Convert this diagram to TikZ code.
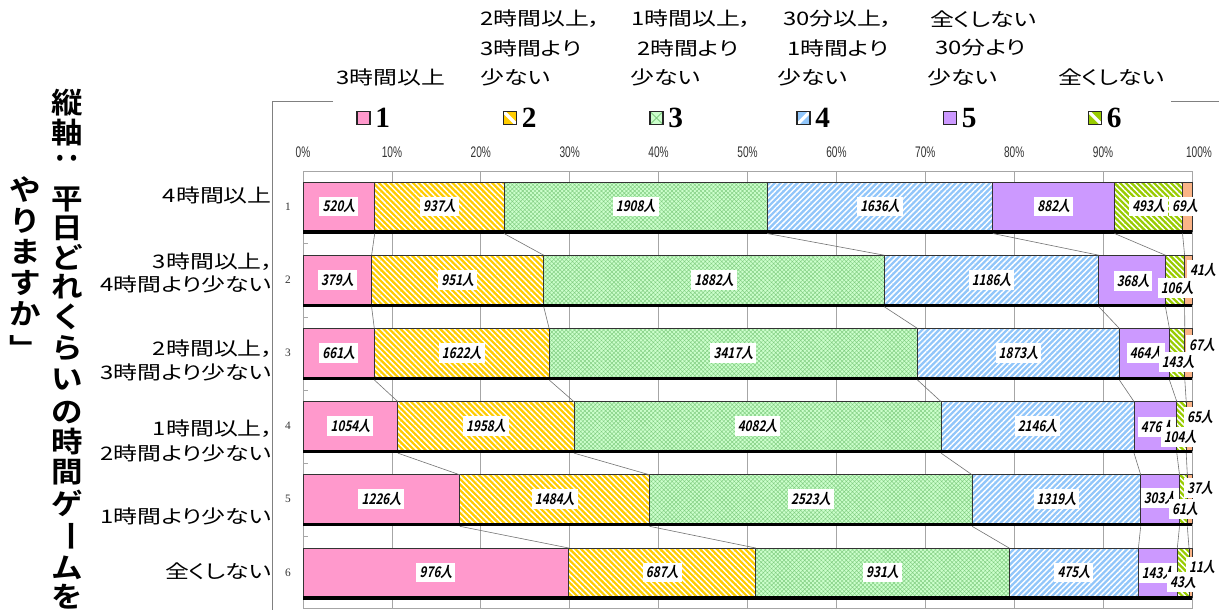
\documentclass[tikz,border=0pt]{standalone}
\usepackage{fontspec}
\usetikzlibrary{patterns.meta}
\setmainfont{Liberation Sans}
\newfontfamily\jp[FakeStretch=1.28,RawFeature=+palt]{Noto Sans CJK JP}
\newfontfamily\jpb[FakeStretch=1.1]{Noto Sans CJK JP Bold}
\newfontfamily\lab[FakeSlant=0.2,FakeStretch=0.8]{Noto Sans CJK JP Bold}
\newfontfamily\pctf[FakeStretch=0.66]{Liberation Sans}
\newfontfamily\numf{Liberation Serif}
\newcommand\lsize{\fontsize{14}{16}\selectfont}
\definecolor{c1}{RGB}{255,153,204}
\definecolor{c2}{RGB}{255,204,0}
\definecolor{c3}{RGB}{204,255,204}
\definecolor{c3d}{RGB}{130,205,130}
\definecolor{c4}{RGB}{145,198,250}
\definecolor{c5}{RGB}{204,153,255}
\definecolor{c6}{RGB}{153,204,0}
\definecolor{c7}{RGB}{250,180,135}
\definecolor{gridc}{RGB}{166,166,166}
\definecolor{framec}{RGB}{128,128,128}
\tikzset{
  segline/.style={draw=black!80, line width=0.5pt},
  s1/.style={fill=c1},
  s2/.style={preaction={fill=c2}, pattern={Lines[angle=-45,distance=3pt,line width=1.1pt]}, pattern color=white},
  s3/.style={preaction={fill=c3}, pattern={Hatch[angle=45,distance=2.2pt,line width=0.35pt]}, pattern color=c3d},
  s4/.style={preaction={fill=c4}, pattern={Lines[angle=45,distance=3pt,line width=1.1pt]}, pattern color=white},
  s5/.style={fill=c5},
  s6/.style={preaction={fill=c6}, pattern={Lines[angle=-45,distance=3pt,line width=1.1pt]}, pattern color=white},
  s7/.style={fill=c7},
  lbl/.style={fill=white, inner sep=2.4pt, font=\lab\fontsize{11}{12}\selectfont},
  catlab/.style={anchor=east, inner sep=0pt, font=\jp\lsize},
  hdr/.style={anchor=west, inner sep=0pt, font=\jp\lsize},
  pct/.style={inner sep=0pt, font=\pctf\fontsize{11.5}{12}\selectfont, text=black!80},
  rownum/.style={inner sep=0pt, font=\numf\fontsize{8.5}{9}\selectfont, text=black!80},
  legnum/.style={anchor=west, inner sep=0pt, font=\numf\bfseries\fontsize{22}{24}\selectfont},
  icon/.style={draw=black!85, line width=1.1pt},
  vt/.style={inner sep=0pt, font=\jpb\fontsize{21.5}{24}\selectfont},
  serline/.style={draw=black!55, line width=0.45pt},
  grid/.style={draw=gridc, line width=0.6pt},
  frame/.style={draw=framec, line width=0.75pt}
}
\begin{document}
\begin{tikzpicture}[x=0.75pt,y=-0.75pt]
\useasboundingbox (0,0) rectangle (1219,610);
\fill[white] (0,0) rectangle (1219,610);

% outer plot frame
\draw[frame] (333,101) -- (272,101) -- (272,610);
\draw[frame] (1171,101) -- (1219,101);

% grid
\foreach \k in {0,...,10}{
  \draw[grid] ({303+88.9*\k},171) -- ({303+88.9*\k},609);
}
\draw[grid] (303,171) -- (1192,171);
\draw[grid] (303,608.5) -- (1192,608.5);
\foreach \y in {243.7,316.9,390.1,463.3,536.5}{
  \draw[grid] (303,\y) -- (308,\y);
}

% percent labels
\foreach \k/\t in {0/0\%,1/10\%,2/20\%,3/30\%,4/40\%,5/50\%,6/60\%,7/70\%,8/80\%,9/90\%}{
  \node[pct] (p\k) at ({303+88.9*\k},152) {\t};
}
\node[pct] (p10) at (1199,152) {100\%};

% bars
\foreach \r/\ba/\bb/\bc/\bd/\be/\bf in {
1/374.7/504.0/767.2/992.8/1114.5/1182.5,
2/371.6/543.7/884.2/1098.8/1165.4/1184.6,
3/374.3/549.1/917.4/1119.3/1169.4/1184.8,
4/397.8/573.9/941.0/1134.0/1176.8/1186.2,
5/459.8/649.5/972.1/1140.7/1179.5/1187.3,
6/568.7/755.7/1009.1/1138.4/1177.3/1189.0}{
  \pgfmathsetmacro\yt{182+73.2*(\r-1)}
  \pgfmathsetmacro\yb{\yt+49}
  \path[s1,segline] (303,\yt) rectangle (\ba,\yb);
  \path[s2,segline] (\ba,\yt) rectangle (\bb,\yb);
  \path[s3,segline] (\bb,\yt) rectangle (\bc,\yb);
  \path[s4,segline] (\bc,\yt) rectangle (\bd,\yb);
  \path[s5,segline] (\bd,\yt) rectangle (\be,\yb);
  \path[s6,segline] (\be,\yt) rectangle (\bf,\yb);
  \path[s7,segline] (\bf,\yt) rectangle (1192,\yb);
  \draw[line width=2.3pt] (303,\yb+1) -- (1192,\yb+1);
  \node[rownum] (n\r) at (288,\yt+24.5) {\r};
  \foreach \k/\x in {1/\ba,2/\bb,3/\bc,4/\bd,5/\be,6/\bf}{
    \coordinate (t\r-\k) at (\x,\yt);
    \coordinate (b\r-\k) at (\x,\yb+2.5);
  }
}

% series lines
\foreach \r in {1,...,5}{
  \pgfmathtruncatemacro\n{\r+1}
  \foreach \k in {1,...,6}{
    \draw[serline] (b\r-\k) -- (t\n-\k);
  }
}

% value labels
\node[lbl] (v11) at (338.9,206.5) {520人};
\node[lbl] (v12) at (439.4,206.5) {937人};
\node[lbl] (v13) at (635.6,206.5) {1908人};
\node[lbl] (v14) at (880.0,206.5) {1636人};
\node[lbl] (v15) at (1053.7,206.5) {882人};
\node[lbl] (v16) at (1148.5,206.5) {493人};
\node[lbl] (v17) at (1185,206.5) {69人};

\node[lbl] (v21) at (337.3,279.7) {379人};
\node[lbl] (v22) at (457.7,279.7) {951人};
\node[lbl] (v23) at (714.0,279.7) {1882人};
\node[lbl] (v24) at (991.5,279.7) {1186人};
\node[lbl] (v25) at (1133,281) {368人};
\node[lbl] (v26) at (1177,288) {106人};
\node[lbl] (v27) at (1203,270) {41人};

\node[lbl] (v31) at (338.7,352.9) {661人};
\node[lbl] (v32) at (461.7,352.9) {1622人};
\node[lbl] (v33) at (733.3,352.9) {3417人};
\node[lbl] (v34) at (1018.4,352.9) {1873人};
\node[lbl] (v35) at (1146,353) {464人};
\node[lbl] (v36) at (1178,362) {143人};
\node[lbl] (v37) at (1202,345) {67人};

\node[lbl] (v41) at (350.4,426.1) {1054人};
\node[lbl] (v42) at (485.9,426.1) {1958人};
\node[lbl] (v43) at (757.5,426.1) {4082人};
\node[lbl] (v44) at (1037.5,426.1) {2146人};
\node[lbl] (v45) at (1157,427) {476人};
\node[lbl] (v46) at (1180,437) {104人};
\node[lbl] (v47) at (1200,417) {65人};

\node[lbl] (v51) at (381.4,499.3) {1226人};
\node[lbl] (v52) at (554.7,499.3) {1484人};
\node[lbl] (v53) at (810.8,499.3) {2523人};
\node[lbl] (v54) at (1056.4,499.3) {1319人};
\node[lbl] (v55) at (1160,498) {303人};
\node[lbl] (v56) at (1185,509) {61人};
\node[lbl] (v57) at (1200,488) {37人};

\node[lbl] (v61) at (435.9,572.5) {976人};
\node[lbl] (v62) at (662.2,572.5) {687人};
\node[lbl] (v63) at (882.4,572.5) {931人};
\node[lbl] (v64) at (1073.8,572.5) {475人};
\node[lbl] (v65) at (1158,573) {143人};
\node[lbl] (v66) at (1183,582) {43人};
\node[lbl] (v67) at (1202,567) {11人};

% category labels
\node[catlab] (cat1) at (272,195) {4時間以上};
\node[catlab] (cat2a) at (274,262) {3時間以上，};
\node[catlab] (cat2b) at (272,284) {4時間より少ない};
\node[catlab] (cat3a) at (274,349) {2時間以上，};
\node[catlab] (cat3b) at (272,372) {3時間より少ない};
\node[catlab] (cat4a) at (274,429) {1時間以上，};
\node[catlab] (cat4b) at (272,453) {2時間より少ない};
\node[catlab] (cat5) at (272,516) {1時間より少ない};
\node[catlab] (cat6) at (272,571) {全くしない};

% legend headers
\node[hdr] (h1) at (336,77) {3時間以上};
\node[hdr] (h2a) at (480,19) {2時間以上，};
\node[hdr] (h2b) at (480,48) {3時間より};
\node[hdr] (h2c) at (480,77) {少ない};
\node[hdr] (h3a) at (631,19) {1時間以上，};
\node[hdr] (h3b) at (637,48) {2時間より};
\node[hdr] (h3c) at (630,77) {少ない};
\node[hdr] (h4a) at (783,19) {30分以上，};
\node[hdr] (h4b) at (787,48) {1時間より};
\node[hdr] (h4c) at (777,77) {少ない};
\node[hdr] (h5a) at (930,19) {全くしない};
\node[hdr] (h5b) at (935,48) {30分より};
\node[hdr] (h5c) at (927,77) {少ない};
\node[hdr] (h6) at (1058,77) {全くしない};

% legend icons
\path[fill=c1] (357,111.5) rectangle (370,124.5);
\draw[icon] (357,111.5) rectangle (370,124.5);
\node[legnum] (L1) at (375,118) {1};

\begin{scope}
\clip (503.5,111.5) rectangle (516.5,124.5);
\fill[c2] (503.5,111.5) rectangle (516.5,124.5);
\draw[white, line width=2.4pt] (503.5,111.5) -- (516.5,124.5);
\end{scope}
\draw[icon] (503.5,111.5) rectangle (516.5,124.5);
\node[legnum] (L2) at (521.5,118) {2};

\begin{scope}
\clip (650,111.5) rectangle (663,124.5);
\fill[c3] (650,111.5) rectangle (663,124.5);
\draw[c3d, line width=0.6pt] (650,111.5) -- (663,124.5) (650,124.5) -- (663,111.5);
\end{scope}
\draw[icon] (650,111.5) rectangle (663,124.5);
\node[legnum] (L3) at (668,118) {3};

\begin{scope}
\clip (797,111.5) rectangle (810,124.5);
\fill[c4] (797,111.5) rectangle (810,124.5);
\draw[white, line width=2.4pt] (797,124.5) -- (810,111.5);
\end{scope}
\draw[icon] (797,111.5) rectangle (810,124.5);
\node[legnum] (L4) at (815,118) {4};

\path[fill=c5] (943.5,111.5) rectangle (956.5,124.5);
\draw[icon] (943.5,111.5) rectangle (956.5,124.5);
\node[legnum] (L5) at (961.5,118) {5};

\begin{scope}
\clip (1088.5,111.5) rectangle (1101.5,124.5);
\fill[c6] (1088.5,111.5) rectangle (1101.5,124.5);
\draw[white, line width=2.4pt] (1088.5,111.5) -- (1101.5,124.5);
\end{scope}
\draw[icon] (1088.5,111.5) rectangle (1101.5,124.5);
\node[legnum] (L6) at (1106.5,118) {6};

% vertical title
\foreach \c/\y/\rot [count=\i] in {縦/103/0, 軸/133/0, ：/158/-90, 平/199/0, 日/228/0, ど/257/0, れ/287/0, く/317/0, ら/348/0, い/380/0, の/413/0, 時/442/0, 間/472/0, ゲ/503/0, ー/536/-90, ム/568/0, を/597/0}{
  \node[vt, rotate=\rot] (tr\i) at (67,\y) {\c};
}
\foreach \c/\y [count=\i] in {や/190, り/221, ま/252, す/283, か/314}{
  \node[vt] (tl\i) at (25,\y) {\c};
}
\node[vt] (tl6) at (25,348) {﹂};
\end{tikzpicture}
\end{document}
